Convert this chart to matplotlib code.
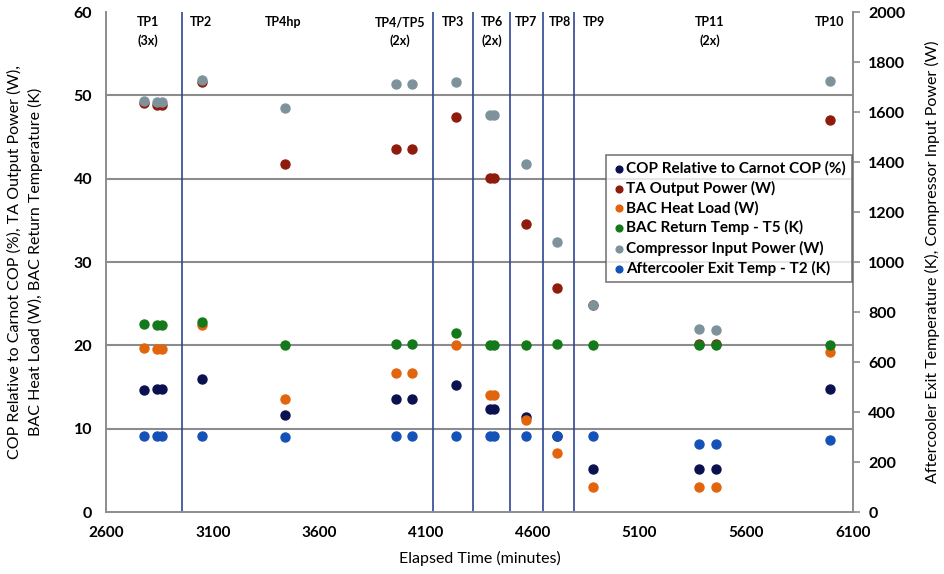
import matplotlib
matplotlib.use("Agg")
import matplotlib.pyplot as plt

plt.rcParams['font.family'] = ['Lato', 'DejaVu Sans']

# Elapsed time of each test point (minutes)
elapsed = [2780, 2840, 2860, 3050, 3437, 3960, 4034, 4239, 4400, 4418,
           4567, 4712, 4880, 5379, 5457, 5993]

# left axis series
cop = [14.7, 14.8, 14.8, 16.0, 11.7, 13.6, 13.6, 15.2, 12.4, 12.4,
       11.4, 9.1, 5.2, 5.2, 5.2, 14.8]
ta_power = [49.1, 48.8, 48.8, 51.6, 41.8, 43.6, 43.6, 47.4, 40.1, 40.1,
            34.6, 26.9, 24.8, 20.2, 20.2, 47.0]
bac_load = [19.7, 19.6, 19.6, 22.4, 13.6, 16.7, 16.7, 20.0, 14.0, 14.0,
            11.0, 7.1, 3.0, 3.0, 3.0, 19.2]
bac_temp = [22.6, 22.5, 22.5, 22.8, 20.1, 20.2, 20.2, 21.5, 20.0, 20.0,
            20.0, 20.2, 20.1, 20.0, 20.0, 20.0]

# right axis series
comp_power = [1645, 1639, 1639, 1727, 1617, 1711, 1711, 1721, 1588, 1588,
              1391, 1081, 829, 731, 728, 1723]
ac_temp = [304, 304, 304, 304, 301, 304, 304, 304, 304, 304,
           304, 304, 304, 272, 272, 288]

# test point separators and labels
dividers = [2955, 4134, 4321, 4493, 4649, 4793]
tp_labels = ['TP1\n(3x)', 'TP2', 'TP4hp', 'TP4/TP5\n(2x)', 'TP3', 'TP6\n(2x)',
             'TP7', 'TP8', 'TP9', 'TP11\n(2x)', 'TP10']
tp_label_x = [2797, 3045, 3430, 3978, 4226, 4409, 4568, 4727, 4887, 5430, 5993]

fig = plt.figure(figsize=(9.45, 5.74), dpi=100)
ax = fig.add_axes([0.1122, 0.108, 0.7904, 0.871])
ax2 = ax.twinx()

for y in [10, 20, 30, 40, 50]:
    ax.axhline(y, color='#8c8c8c', lw=1.5, zorder=0)
for x in dividers:
    ax.axvline(x, color='#2f4696', lw=1.2, zorder=1)

ms = 42
h1 = ax.scatter(elapsed, cop, s=ms, color='#0b1150', zorder=3, label='COP Relative to Carnot COP (%)')
h2 = ax.scatter(elapsed, ta_power, s=ms, color='#8e1b0c', zorder=3, label='TA Output Power (W)')
h3 = ax.scatter(elapsed, bac_load, s=ms, color='#e2640c', zorder=3, label='BAC Heat Load (W)')
h4 = ax.scatter(elapsed, bac_temp, s=ms, color='#13791a', zorder=3, label='BAC Return Temp - T5 (K)')
h5 = ax2.scatter(elapsed, comp_power, s=ms, color='#7d929b', zorder=3, label='Compressor Input Power (W)')
h6 = ax2.scatter(elapsed, ac_temp, s=ms, color='#1452b8', zorder=3, label='Aftercooler Exit Temp - T2 (K)')

ax.set_xlim(2600, 6100)
ax.set_ylim(0, 60)
ax2.set_ylim(0, 2000)
ax.set_xticks(range(2600, 6101, 500))
ax.set_yticks(range(0, 61, 10))
ax2.set_yticks(range(0, 2001, 200))

for a in (ax, ax2):
    for side in a.spines.values():
        side.set_color('#8c8c8c')
        side.set_linewidth(1.2)
    a.spines['top'].set_visible(False)
ax.tick_params(axis='x', length=0, labelsize=11, pad=10)
ax.tick_params(axis='y', length=0, labelsize=11.5, pad=10)
ax2.tick_params(axis='y', length=5, width=1.2, color='#8c8c8c', labelsize=11.5, pad=6)
for lbl in ax.get_xticklabels() + ax.get_yticklabels() + ax2.get_yticklabels():
    lbl.set_fontweight('bold')

for x, t in zip(tp_label_x, tp_labels):
    ax.text(x, 59.5, t, ha='center', va='top', fontsize=9, fontweight='bold', linespacing=1.6)

ax.set_xlabel('Elapsed Time (minutes)', fontsize=11.5, labelpad=8)
ax.set_ylabel('COP Relative to Carnot COP (%), TA Output Power (W),\nBAC Heat Load (W), BAC Return Temperature (K)',
              fontsize=11.5, labelpad=22, linespacing=1.5)
ax2.set_ylabel('Aftercooler Exit Temperature (K), Compressor Input Power (W)', fontsize=11.5, labelpad=14)

leg = ax2.legend(handles=[h1, h2, h3, h4, h5, h6], loc='upper right', bbox_to_anchor=(1.003, 0.72),
                 fontsize=11, frameon=True, fancybox=False, handletextpad=0.05, handlelength=0.9,
                 borderpad=0.4, labelspacing=0.33, markerscale=0.75, borderaxespad=0.2)
leg.get_frame().set_edgecolor('#595959')
leg.get_frame().set_linewidth(1.2)
for t in leg.get_texts():
    t.set_fontweight('bold')

fig.savefig('out.png', dpi=100)
